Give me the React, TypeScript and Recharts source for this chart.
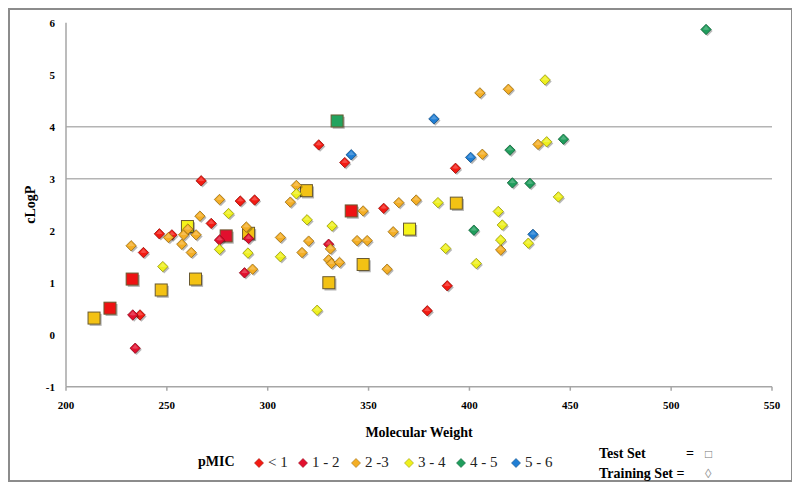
import React from "react";
import { ScatterChart, Scatter, XAxis, YAxis, ReferenceLine } from "recharts";

// pMIC bins
const pmicBins = ["< 1", "1 - 2", "2 -3", "3 - 4", "4 - 5", "5 - 6"];
const binColors = ["#f41a12", "#e2102e", "#f4ae24", "#eef01c", "#1f9d5c", "#1f7ed4"];
const testColors = ["#ee1212", "#e2102e", "#f3c214", "#f6f41a", "#22a35e", "#1f7ed4"];

// training set [molecular weight, cLogP]
const trainLt1: [number, number][] = [
  [267.0, 2.96], [286.4, 2.57], [293.5, 2.59], [246.3, 1.94], [252.5, 1.92],
  [238.4, 1.58], [272.0, 2.14], [325.3, 3.65], [338.2, 3.31], [357.5, 2.43],
  [393.1, 3.2], [389.0, 0.94], [379.1, 0.46], [236.7, 0.38],
];
const train1to2: [number, number][] = [
  [233.1, 0.38], [234.3, -0.26], [288.5, 1.19], [330.2, 1.74], [276.1, 1.82], [290.5, 1.85],
];
const train2to3: [number, number][] = [
  [232.3, 1.71], [250.8, 1.87], [257.4, 1.74], [258.3, 1.92], [262.1, 1.58],
  [264.5, 1.92], [260.4, 2.03], [266.4, 2.28], [276.1, 2.6], [289.4, 2.07],
  [292.5, 1.26], [306.3, 1.87], [311.2, 2.55], [314.2, 2.87], [317.0, 1.58],
  [320.3, 1.8], [331.1, 1.65], [330.2, 1.44], [331.6, 1.37], [335.6, 1.39],
  [344.3, 1.81], [349.3, 1.81], [347.3, 2.38], [359.2, 1.26], [362.2, 1.98],
  [365.0, 2.54], [373.6, 2.59], [406.4, 3.47], [405.2, 4.65], [419.3, 4.72],
  [434.0, 3.66], [415.5, 1.63],
];
const train3to4: [number, number][] = [
  [248.0, 1.31], [276.1, 1.64], [280.6, 2.33], [290.2, 1.57], [306.3, 1.5],
  [314.2, 2.71], [319.5, 2.21], [331.9, 2.09], [324.5, 0.47], [384.4, 2.54],
  [388.2, 1.66], [403.4, 1.37], [414.3, 2.37], [416.3, 2.11], [415.5, 1.82],
  [429.2, 1.76], [437.5, 4.9], [438.3, 3.71], [444.1, 2.65],
];
const train4to5: [number, number][] = [
  [402.2, 2.01], [420.1, 3.55], [421.3, 2.92], [430.0, 2.91], [446.6, 3.76], [517.3, 5.87],
];
const train5to6: [number, number][] = [
  [341.4, 3.46], [400.6, 3.41], [431.5, 1.93], [382.4, 4.15],
];

// test set [molecular weight, cLogP]
const testLt1: [number, number][] = [[221.8, 0.51], [232.8, 1.07], [341.4, 2.38]];
const test1to2: [number, number][] = [[279.4, 1.9]];
const test2to3: [number, number][] = [
  [213.9, 0.32], [247.2, 0.86], [264.2, 1.07], [290.5, 1.95], [319.2, 2.77],
  [330.3, 1.0], [347.3, 1.35], [393.5, 2.53],
];
const test3to4: [number, number][] = [[260.2, 2.08], [370.3, 2.03]];
const test4to5: [number, number][] = [[334.4, 4.11]];

const xTicks = [200, 250, 300, 350, 400, 450, 500, 550];
const yTicks = [-1, 0, 1, 2, 3, 4, 5, 6];
const gridValues = [3, 4];

const trainingSeries = [trainLt1, train1to2, train2to3, train3to4, train4to5, train5to6];
const testSeries = [testLt1, test1to2, test2to3, test3to4, test4to5];

const toRows = (pts: [number, number][]) => pts.map(([mw, clogp]) => ({ mw, clogp }));

const font = "'Liberation Serif', 'Times New Roman', serif";

function shade(hex: string, f: number) {
  const n = parseInt(hex.slice(1), 16);
  const r = Math.round(((n >> 16) & 255) * f);
  const g = Math.round(((n >> 8) & 255) * f);
  const b = Math.round((n & 255) * f);
  return `rgb(${r},${g},${b})`;
}

const Diamond = (color: string) => (props: any) => {
  const { cx, cy } = props;
  if (cx == null || cy == null) return <g />;
  const h = 5.2;
  const pts = (dx: number, dy: number) =>
    `${cx + dx},${cy - h + dy} ${cx + h + dx},${cy + dy} ${cx + dx},${cy + h + dy} ${cx - h + dx},${cy + dy}`;
  return (
    <g>
      <polygon points={pts(1.4, 1.6)} fill="rgba(0,0,0,0.28)" />
      <polygon points={pts(0, 0)} fill={color} stroke={shade(color, 0.62)} strokeWidth={0.8} />
      <polygon
        points={`${cx},${cy - h + 1.5} ${cx + h - 2},${cy} ${cx},${cy + 0.5} ${cx - h + 2},${cy}`}
        fill="rgba(255,255,255,0.22)"
      />
    </g>
  );
};

const Square = (color: string) => (props: any) => {
  const { cx, cy } = props;
  if (cx == null || cy == null) return <g />;
  const s = 6;
  return (
    <g>
      <rect x={cx - s + 1.6} y={cy - s + 1.8} width={2 * s} height={2 * s} fill="rgba(0,0,0,0.3)" />
      <rect x={cx - s} y={cy - s} width={2 * s} height={2 * s} fill={color} stroke="#6a5a30" strokeWidth={1} />
    </g>
  );
};

const LegendDiamond = ({ color }: { color: string }) => (
  <svg width={10} height={10} style={{ verticalAlign: "middle", marginRight: 4 }}>
    <polygon points="5,0.5 9.5,5 5,9.5 0.5,5" fill={color} stroke={shade(color, 0.65)} strokeWidth={0.6} />
  </svg>
);

// legend item start positions (px from legend box left)
const legendSlots = [56, 100, 153, 206, 258, 313];

export default function App() {
  return (
    <div
      style={{
        position: "relative",
        width: 785,
        height: 474,
        border: "2px solid #8c8c8c",
        boxSizing: "border-box",
        fontFamily: font,
        background: "#fff",
      }}
    >
      <ScatterChart
        width={781}
        height={470}
        margin={{ top: 12.7, right: 19, bottom: 63.3, left: 10 }}
      >
        <XAxis
          type="number"
          dataKey="mw"
          domain={[200, 550]}
          ticks={xTicks}
          allowDataOverflow
          height={30}
          stroke="#a6a6a6"
          strokeWidth={1.5}
          tickSize={4}
          tickMargin={10}
          tick={{ fill: "#000", fontSize: 11, fontWeight: 700, fontFamily: font }}
          label={{
            value: "Molecular Weight",
            position: "bottom",
            offset: 10,
            style: { fill: "#000", fontSize: 14, fontWeight: 700, fontFamily: font },
          }}
        />
        <YAxis
          type="number"
          dataKey="clogp"
          domain={[-1, 6]}
          ticks={yTicks}
          allowDataOverflow
          width={46}
          stroke="#a6a6a6"
          strokeWidth={1.5}
          tickLine={false}
          tickSize={8}
          tickMargin={3}
          tick={{ fill: "#000", fontSize: 11, fontWeight: 700, fontFamily: font }}
          label={{
            value: "cLogP",
            angle: -90,
            position: "insideLeft",
            offset: 10,
            style: { fill: "#000", fontSize: 14, fontWeight: 700, fontFamily: font, textAnchor: "middle" },
          }}
        />
        {gridValues.map((v) => (
          <ReferenceLine key={v} y={v} stroke="#b4b4b4" strokeWidth={1.5} />
        ))}
        {testSeries.map((pts, i) => (
          <Scatter
            key={"test" + i}
            name={"Test " + pmicBins[i]}
            data={toRows(pts)}
            shape={Square(testColors[i])}
            isAnimationActive={false}
          />
        ))}
        {trainingSeries.map((pts, i) => (
          <Scatter
            key={"train" + i}
            name={"Training " + pmicBins[i]}
            data={toRows(pts)}
            shape={Diamond(binColors[i])}
            isAnimationActive={false}
          />
        ))}
      </ScatterChart>

      {/* legend */}
      <div
        style={{
          position: "absolute",
          left: 188,
          top: 444,
          height: 20,
          width: 380,
          fontSize: 15,
          whiteSpace: "nowrap",
        }}
      >
        <span style={{ position: "absolute", left: 0, top: 0, fontWeight: 700, fontSize: 14 }}>pMIC</span>
        {pmicBins.map((b, i) => (
          <span
            key={b}
            style={{ position: "absolute", left: legendSlots[i], top: 0, display: "inline-flex", alignItems: "center" }}
          >
            <LegendDiamond color={binColors[i]} />
            <span style={{ color: "#222" }}>{b}</span>
          </span>
        ))}
      </div>
      <div
        style={{
          position: "absolute",
          left: 589,
          top: 434,
          fontSize: 14,
          lineHeight: "20px",
          whiteSpace: "nowrap",
        }}
      >
        <div>
          <span style={{ fontWeight: 700 }}>Test Set</span>
          <span style={{ position: "absolute", left: 87, fontWeight: 700 }}>=</span>
          <span style={{ position: "absolute", left: 106, color: "#777", fontSize: 12 }}>□</span>
        </div>
        <div>
          <span style={{ fontWeight: 700 }}>Training Set =</span>
          <span style={{ position: "absolute", left: 106, color: "#999", fontSize: 13 }}>◊</span>
        </div>
      </div>
    </div>
  );
}
